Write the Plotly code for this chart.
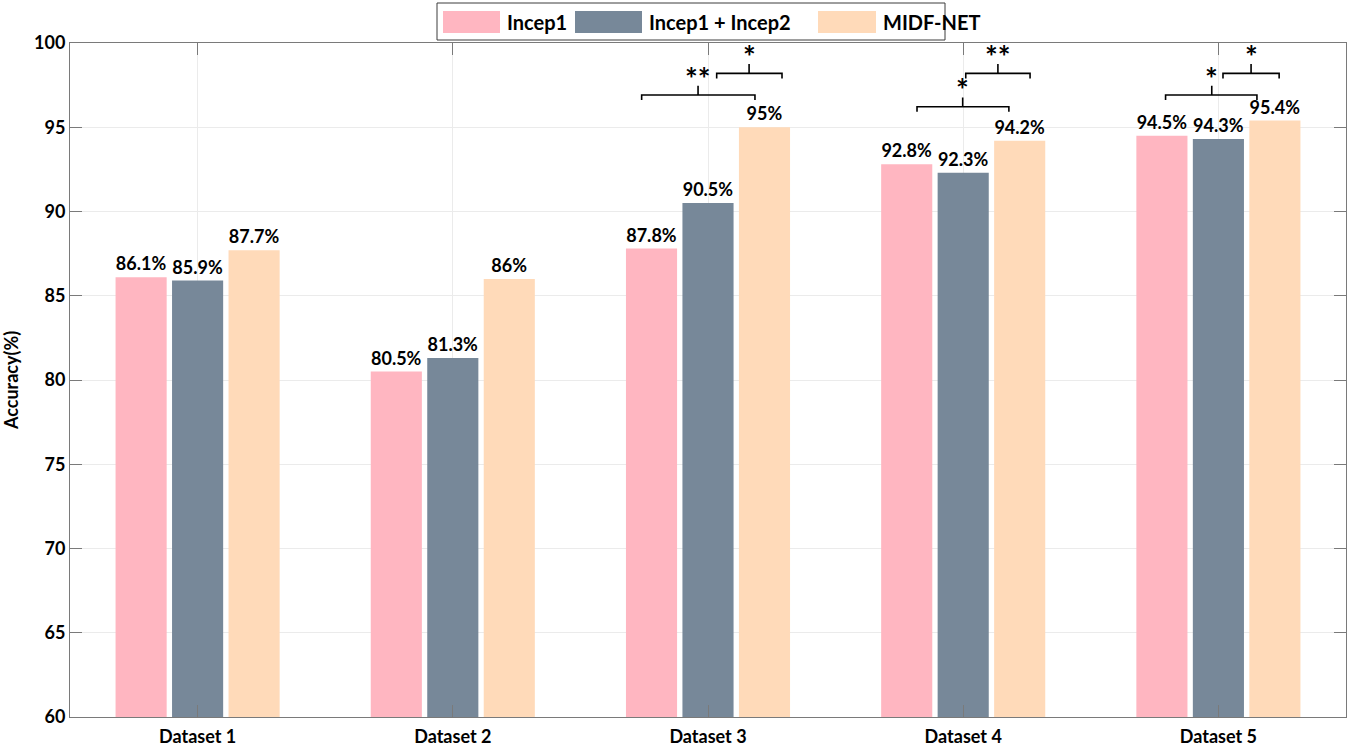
import plotly.graph_objects as go

# ---- data -------------------------------------------------------------
datasets = ["Dataset 1", "Dataset 2", "Dataset 3", "Dataset 4", "Dataset 5"]
incep1 = [86.1, 80.5, 87.8, 92.8, 94.5]
incep1_incep2 = [85.9, 81.3, 90.5, 92.3, 94.3]
midf_net = [87.7, 86.0, 95.0, 94.2, 95.4]
series_names = ["Incep1", "Incep1 + Incep2", "MIDF-NET"]

# significance brackets: (left, right, middle, line level, label)
brackets = [
    (2.740, 3.184, 2.961, 96.91, "**"),
    (3.034, 3.290, 3.161, 98.20, "*"),
    (3.819, 4.179, 3.998, 96.22, "*"),
    (4.010, 4.262, 4.136, 98.20, "**"),
    (4.793, 5.151, 4.974, 96.91, "*"),
    (5.018, 5.238, 5.128, 98.20, "*"),
]

# ---- style ------------------------------------------------------------
W, H = 1356, 746
ML, MR, MT, MB = 70, 10, 43, 29
FONT = "Lato"
colors = ["#FFB6C1", "#778899", "#FFDAB9"]
AXIS_COLOR = "#7a7a7a"
GRID_COLOR = "#ebebeb"

x_pos = list(range(1, len(datasets) + 1))


def fmt(v):
    return f"{v:g}%"


fig = go.Figure()
for name, vals, col in zip(series_names, [incep1, incep1_incep2, midf_net], colors):
    fig.add_trace(go.Bar(
        x=x_pos, y=vals, name=name,
        marker=dict(color=col, line=dict(width=0)),
        text=[fmt(v) for v in vals],
        textposition="outside",
        constraintext="none",
        cliponaxis=False,
        textfont=dict(family=FONT, size=18, color="#000000", weight="bold"),
        showlegend=False,
    ))

# brackets with significance stars
DROP, RISE = 0.30, 0.55
for xl, xr, xm, yl, lab in brackets:
    path = (f"M {xl},{yl - DROP} L {xl},{yl} L {xr},{yl} L {xr},{yl - DROP} "
            f"M {xm},{yl} L {xm},{yl + RISE}")
    fig.add_shape(type="path", path=path, xref="x", yref="y",
                  line=dict(color="#000000", width=1.6))
    fig.add_annotation(x=xm, y=yl + RISE, xref="x", yref="y", text=lab,
                       showarrow=False, yanchor="bottom", yshift=-12,
                       font=dict(family=FONT, size=30, color="#000000", weight="bold"))


# ---- manual legend (pixel layout converted to paper coords) -----------
def px_x(px):
    return (px - ML) / (W - ML - MR)


def px_y(py):
    return (H - MB - py) / (H - MT - MB)


fig.add_shape(type="rect", xref="paper", yref="paper",
              x0=px_x(437), x1=px_x(945), y0=px_y(40), y1=px_y(3),
              line=dict(color="#3c3c3c", width=1), fillcolor="white")
swatches = [(443, 500, 505), (575, 642, 647), (818, 876, 881)]
for (sx0, sx1, tx), name, col in zip(swatches, series_names, colors):
    fig.add_shape(type="rect", xref="paper", yref="paper",
                  x0=px_x(sx0), x1=px_x(sx1), y0=px_y(33), y1=px_y(11),
                  line=dict(width=0), fillcolor=col)
    fig.add_annotation(x=px_x(tx), y=px_y(22), xref="paper", yref="paper",
                       text=name, showarrow=False, xanchor="left", yanchor="middle",
                       font=dict(family=FONT, size=20, color="#000000", weight="bold"))

fig.update_layout(
    width=W, height=H,
    margin=dict(l=ML, r=MR, t=MT, b=MB, autoexpand=False),
    paper_bgcolor="white", plot_bgcolor="white",
    barmode="group", bargap=0.336, bargroupgap=0.095,
    font=dict(family=FONT, color="#000000"),
    showlegend=False,
)
fig.update_xaxes(
    range=[0.5, 5.5], tickvals=x_pos, ticktext=datasets,
    showgrid=True, gridcolor=GRID_COLOR, gridwidth=1,
    showline=True, linecolor=AXIS_COLOR, linewidth=1, mirror="ticks",
    ticks="inside", ticklen=12, tickcolor=AXIS_COLOR, tickwidth=1,
    ticklabelstandoff=3,
    tickfont=dict(family=FONT, size=18, color="#000000", weight="bold"),
    zeroline=False, automargin=False,
)
fig.update_yaxes(
    range=[60, 100], dtick=5,
    showgrid=True, gridcolor=GRID_COLOR, gridwidth=1,
    showline=True, linecolor=AXIS_COLOR, linewidth=1, mirror="ticks",
    ticks="inside", ticklen=12, tickcolor=AXIS_COLOR, tickwidth=1,
    tickfont=dict(family=FONT, size=18, color="#000000", weight="bold"),
    title=dict(text="Accuracy(%)", standoff=10,
               font=dict(family=FONT, size=18, color="#000000", weight="bold")),
    zeroline=False, automargin=False,
)

fig.write_html("out.html")
